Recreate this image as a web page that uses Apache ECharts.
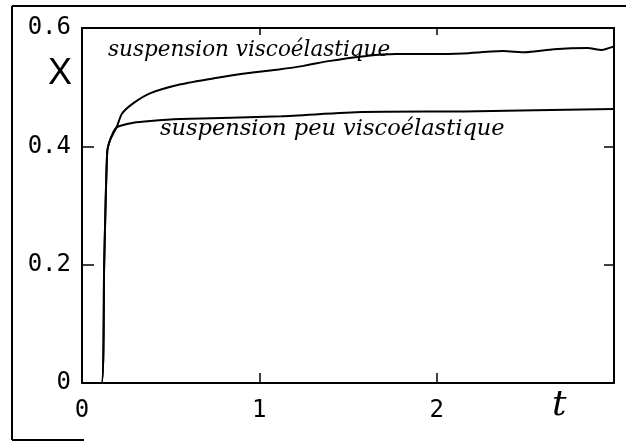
<!DOCTYPE html>
<html>
<head>
<meta charset="utf-8">
<script src="https://cdn.jsdelivr.net/npm/echarts@6/dist/echarts.min.js"></script>
<style>
  html, body { margin: 0; padding: 0; background: #fff; }
  #main { width: 626px; height: 441px; }
</style>
</head>
<body>
<div id="main"></div>
<script>
// temps t et taux X
const tShared = [0, 0.11, 0.125, 0.142, 0.16, 0.195];
const xShared = [0, 0, 0.2, 0.39, 0.412, 0.432];

const tVisco = [0.225, 0.29, 0.386, 0.557, 0.744, 0.94, 1.11, 1.25, 1.39, 1.58, 1.77, 1.96, 2.15, 2.375, 2.5, 2.66, 2.85, 2.93, 3.0];
const xVisco = [0.455, 0.473, 0.49, 0.505, 0.515, 0.524, 0.53, 0.536, 0.544, 0.552, 0.556, 0.556, 0.557, 0.561, 0.559, 0.564, 0.566, 0.563, 0.569];

const tPeu = [0.29, 0.386, 0.557, 1.125, 1.58, 2.15, 3.0];
const xPeu = [0.44, 0.443, 0.446, 0.451, 0.458, 0.459, 0.463];

const yTicks = [0, 0.2, 0.4, 0.6];
const xTicks = [0, 1, 2];

function pairs(ts, xs) {
    return ts.map((t, i) => [t, xs[i]]);
}
const dataVisco = pairs(tShared, xShared).concat(pairs(tVisco, xVisco));
const dataPeu = pairs(tShared, xShared).concat(pairs(tPeu, xPeu));

const chart = echarts.init(document.getElementById('main'));
const axisLine = { show: true, onZero: false, lineStyle: { color: '#000', width: 2 } };
const tickIn = { show: true, inside: true, length: 10, lineStyle: { color: '#000', width: 1.5 } };
const labelFont = { color: '#000', fontFamily: 'DejaVu Sans Mono', fontSize: 24 };

chart.setOption({
    animation: false,
    grid: { left: 82, right: 12, top: 28, bottom: 58 },
    xAxis: [
        {
            type: 'value', min: 0, max: 3, interval: 1,
            axisLine: axisLine,
            axisTick: Object.assign({}, tickIn, { customValues: [1, 2] }),
            axisLabel: Object.assign({}, labelFont, { margin: 16, customValues: xTicks,
                formatter: v => String(v) }),
            splitLine: { show: false }
        },
        {
            type: 'value', position: 'top', min: 0, max: 3, interval: 1,
            axisLine: axisLine,
            axisTick: Object.assign({}, tickIn, { length: 7, customValues: [1, 2] }),
            axisLabel: { show: false },
            splitLine: { show: false }
        }
    ],
    yAxis: [
        {
            type: 'value', min: 0, max: 0.6, interval: 0.2,
            axisLine: axisLine,
            axisTick: Object.assign({}, tickIn, { length: 12, customValues: [0.2, 0.4] }),
            axisLabel: Object.assign({}, labelFont, { margin: 11, customValues: yTicks,
                formatter: v => v === 0 ? '0' : v.toFixed(1) }),
            splitLine: { show: false }
        },
        {
            type: 'value', position: 'right', min: 0, max: 0.6, interval: 0.2,
            axisLine: axisLine,
            axisTick: Object.assign({}, tickIn, { customValues: [0.2, 0.4] }),
            axisLabel: { show: false },
            splitLine: { show: false }
        }
    ],
    series: [
        {
            name: 'suspension viscoélastique',
            type: 'line',
            smooth: 0.2,
            showSymbol: false,
            lineStyle: { color: '#000', width: 2 },
            data: dataVisco
        },
        {
            name: 'suspension peu viscoélastique',
            type: 'line',
            smooth: 0.2,
            showSymbol: false,
            lineStyle: { color: '#000', width: 2 },
            data: dataPeu
        }
    ],
    graphic: [
        // cadre extérieur de la figure scannée
        { type: 'line', shape: { x1: 12, y1: 6, x2: 12, y2: 440 }, style: { stroke: '#000', lineWidth: 2 } },
        { type: 'line', shape: { x1: 12, y1: 6, x2: 626, y2: 6 }, style: { stroke: '#000', lineWidth: 2 } },
        { type: 'line', shape: { x1: 12, y1: 440, x2: 84, y2: 440 }, style: { stroke: '#000', lineWidth: 2 } },
        { type: 'text', left: 48, top: 56,
          style: { text: 'X', fontSize: 36, fontFamily: 'Liberation Sans', fill: '#000' } },
        { type: 'text', left: 552, top: 388,
          style: { text: 't', fontSize: 36, fontStyle: 'italic', fontFamily: 'DejaVu Serif', fill: '#000' } },
        { type: 'text', left: 108, top: 39,
          style: { text: 'suspension viscoélastique', fontSize: 21.5, fontStyle: 'italic',
                   fontFamily: 'DejaVu Serif', fill: '#000' } },
        { type: 'text', left: 160, top: 118,
          style: { text: 'suspension peu viscoélastique', fontSize: 22.5, fontStyle: 'italic',
                   fontFamily: 'DejaVu Serif', fill: '#000' } }
    ]
});
</script>
</body>
</html>
